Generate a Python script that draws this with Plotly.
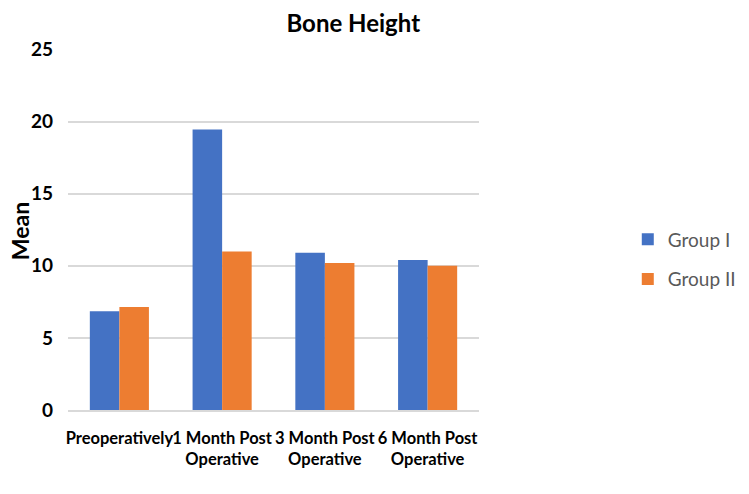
import plotly.graph_objects as go

categories = ["Preoperatively", "1 Month Post<br>Operative", "3 Month Post<br>Operative", "6 Month Post<br>Operative"]
group1 = [6.85, 19.45, 10.9, 10.4]
group2 = [7.15, 11.0, 10.2, 10.0]
y_ticks = [0, 5, 10, 15, 20, 25]

FONT = "Lato"

fig = go.Figure()
fig.add_trace(go.Bar(x=categories, y=group1, name="Group I", marker_color="#4472C4",
                     marker_line_width=0, legendgroup="a"))
fig.add_trace(go.Bar(x=categories, y=group2, name="Group II", marker_color="#ED7D31",
                     marker_line_width=0, legendgroup="b"))

fig.update_layout(
    width=749, height=494,
    margin=dict(l=60, r=278, t=41, b=92, autoexpand=False),
    paper_bgcolor="white", plot_bgcolor="white",
    barmode="group", bargap=0.425, bargroupgap=0,
    title=dict(text="<b>Bone Height</b>", xref="container", x=0.461, xanchor="center",
               yref="container", y=0.985, yanchor="top", pad=dict(t=0, b=0),
               font=dict(family=FONT, size=24, color="black")),
    font=dict(family=FONT),
    xaxis=dict(showline=True, linecolor="#d9d9d9", linewidth=1.5, ticks="", tickangle=0,
               automargin=False, ticklabelstandoff=12,
               tickfont=dict(family=FONT, size=16.5, color="black", weight="bold")),
    yaxis=dict(range=[0, 25.04], tickvals=y_ticks, showgrid=True, gridcolor="#d9d9d9", gridwidth=1.5,
               zeroline=False, showline=False, ticks="", ticklen=0, automargin=False,
               ticklabelstandoff=14,
               tickfont=dict(family=FONT, size=19, color="black", weight="bold")),
    legend=dict(x=1.362, xanchor="left", y=0.417, yanchor="middle", traceorder="grouped",
                tracegroupgap=12, font=dict(family=FONT, size=19, color="#595959"),
                itemwidth=30),
    annotations=[dict(text="<b>Mean</b>", textangle=-90, xref="paper", yref="paper",
                      x=-0.118, xanchor="center", y=0.494, yanchor="middle", showarrow=False,
                      font=dict(family=FONT, size=23, color="black"))],
)

fig.write_html("out.html")
